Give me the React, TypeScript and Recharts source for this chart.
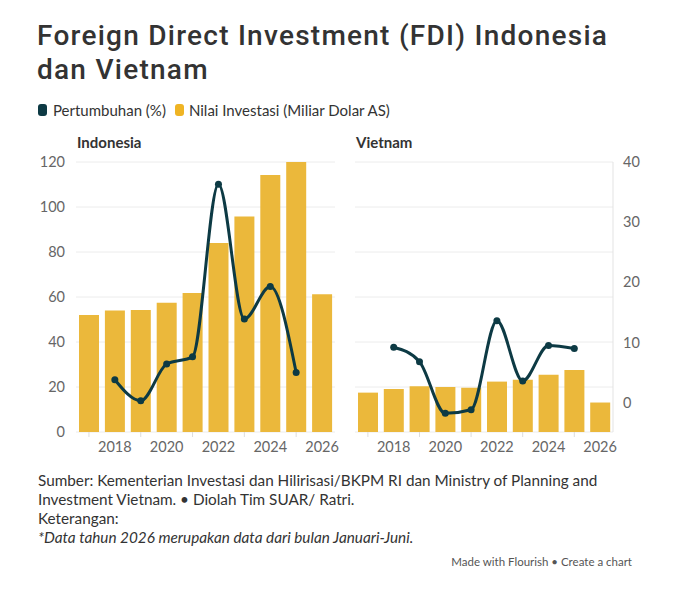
import React from 'react';
import { ComposedChart, Bar, Line, XAxis, YAxis, CartesianGrid } from 'recharts';

const years = [2017, 2018, 2019, 2020, 2021, 2022, 2023, 2024, 2025, 2026];

// Nilai investasi (miliar dolar AS)
const indonesiaNilai = [52, 54, 54.2, 57.4, 61.8, 84, 95.8, 114.2, 120, 61.2];
const vietnamNilai = [17.5, 19.1, 20.3, 20.0, 19.7, 22.4, 23.2, 25.4, 27.6, 13.1];

// Pertumbuhan (%)
const indonesiaTumbuh = [null, 3.8, 0.3, 6.4, 7.6, 36.3, 13.9, 19.3, 5.0, null];
const vietnamTumbuh = [null, 9.2, 6.8, -1.8, -1.2, 13.6, 3.6, 9.5, 9.0, null];

const nilaiTicks = [0, 20, 40, 60, 80, 100, 120];
const tumbuhTicks = [0, 10, 20, 30, 40];

const FONT = 'Lato, "Noto Sans", sans-serif';
const TITLE_FONT = 'Roboto, "Noto Sans", sans-serif';
const BAR = '#ebb83b';
const LINE = '#0d3a44';
const AXIS_TEXT = '#666666';

const indonesiaData = years.map((year, i) => ({
  year,
  nilai: indonesiaNilai[i],
  tumbuh: indonesiaTumbuh[i],
}));

const vietnamData = years.map((year, i) => ({
  year,
  nilai: vietnamNilai[i],
  tumbuh: vietnamTumbuh[i],
}));

function YearTick(props: any) {
  const { x, y, payload } = props;
  const year = Number(payload.value);
  if (year % 2 === 0) {
    return (
      <text x={x} y={y} dy={20} textAnchor="middle" fill={AXIS_TEXT} fontSize={14.5} fontFamily={FONT}>
        {year}
      </text>
    );
  }
  return <line x1={x} x2={x} y1={y} y2={y + 5} stroke="#dddddd" strokeWidth={1} />;
}

function Panel({ data, showLeft, showRight, width, marginLeft, marginRight }: any) {
  return (
    <ComposedChart
      width={width}
      height={465}
      data={data}
      margin={{ top: 162, right: marginRight, bottom: 3, left: marginLeft }}
    >
      <CartesianGrid yAxisId="nilai" vertical={false} stroke="#ececec" />
      <XAxis
        dataKey="year"
        height={30}
        axisLine={false}
        tickLine={false}
        tickSize={0}
        tickMargin={0}
        interval={0}
        tick={<YearTick />}
      />
      <YAxis
        yAxisId="nilai"
        orientation="left"
        domain={[0, 120]}
        ticks={nilaiTicks}
        allowDataOverflow
        hide={!showLeft}
        width={51}
        axisLine={false}
        tickLine={false}
        tickSize={0}
        tickMargin={11}
        tick={{ fill: AXIS_TEXT, fontSize: 14.5, fontFamily: FONT }}
      />
      <YAxis
        yAxisId="tumbuh"
        orientation="right"
        domain={[-4.9, 40]}
        ticks={tumbuhTicks}
        allowDataOverflow
        hide={!showRight}
        width={40}
        axisLine={{ stroke: '#e3e3e3' }}
        tickLine={false}
        tickSize={0}
        tickMargin={10}
        tick={{ fill: AXIS_TEXT, fontSize: 14.5, fontFamily: FONT }}
      />
      <Bar yAxisId="nilai" dataKey="nilai" fill={BAR} barSize={20} isAnimationActive={false} />
      <Line
        yAxisId="tumbuh"
        type="monotone"
        dataKey="tumbuh"
        stroke={LINE}
        strokeWidth={3}
        dot={{ r: 3.5, fill: LINE, stroke: LINE, strokeWidth: 0 }}
        activeDot={false}
        isAnimationActive={false}
      />
    </ComposedChart>
  );
}

const text: React.CSSProperties = { position: 'absolute', fontFamily: FONT, color: '#333333', whiteSpace: 'nowrap' };
const title: React.CSSProperties = {
  ...text,
  fontFamily: TITLE_FONT,
  left: 37,
  fontSize: 28,
  fontWeight: 500,
  letterSpacing: '1.25px',
  lineHeight: '33px',
};

export default function App() {
  return (
    <div style={{ position: 'absolute', left: 0, top: 0, width: 694, height: 589, background: '#ffffff', overflow: 'hidden' }}>
      <div style={{ ...title, top: 19 }}>Foreign Direct Investment (FDI) Indonesia</div>
      <div style={{ ...title, top: 53 }}>dan Vietnam</div>

      <div style={{ ...text, left: 38, top: 101, fontSize: 15, lineHeight: '18px', display: 'flex', alignItems: 'center' }}>
        <span style={{ display: 'inline-block', width: 9, height: 12, borderRadius: 3, background: LINE, marginRight: 6 }} />
        <span>Pertumbuhan (%)</span>
        <span style={{ display: 'inline-block', width: 9, height: 12, borderRadius: 3, background: '#efb424', marginLeft: 9, marginRight: 5 }} />
        <span>Nilai Investasi (Miliar Dolar AS)</span>
      </div>

      <div style={{ ...text, left: 77, top: 133, fontSize: 15, fontWeight: 700 }}>Indonesia</div>
      <div style={{ ...text, left: 356, top: 133, fontSize: 15, fontWeight: 700 }}>Vietnam</div>

      <div style={{ position: 'absolute', left: 0, top: 0 }}>
        <Panel data={indonesiaData} showLeft showRight={false} width={345} marginLeft={25} marginRight={10} />
      </div>
      <div style={{ position: 'absolute', left: 300, top: 0 }}>
        <Panel data={vietnamData} showLeft={false} showRight width={360} marginLeft={55} marginRight={7} />
      </div>

      <div style={{ ...text, left: 38, top: 471, fontSize: 15.3, lineHeight: '19px' }}>
        Sumber: Kementerian Investasi dan Hilirisasi/BKPM RI dan Ministry of Planning and
        <br />
        Investment Vietnam. • Diolah Tim SUAR/ Ratri.
        <br />
        Keterangan:
        <br />
        <i>*Data tahun 2026 merupakan data dari bulan Januari-Juni.</i>
      </div>

      <div style={{ ...text, right: 62, top: 555, fontSize: 11.5, color: '#555555' }}>
        Made with Flourish • Create a chart
      </div>
    </div>
  );
}
